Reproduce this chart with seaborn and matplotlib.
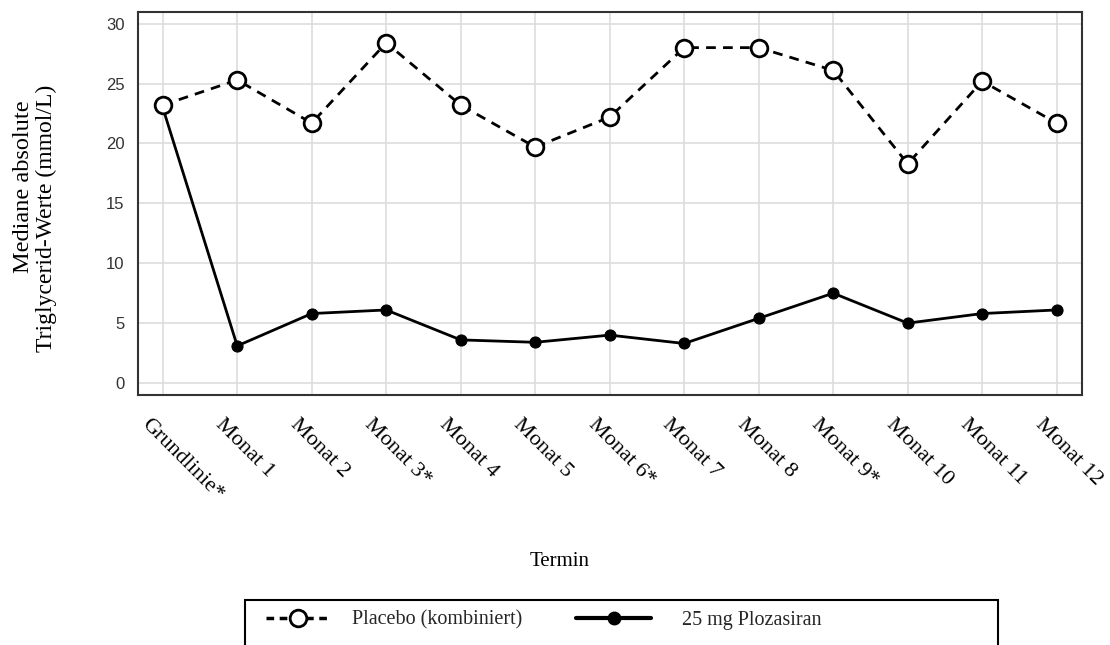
import matplotlib
matplotlib.use("Agg")
import matplotlib.pyplot as plt
import matplotlib.transforms as mtransforms
from matplotlib.lines import Line2D
from matplotlib.patches import Rectangle
import seaborn as sns
import pandas as pd

categories = ["Grundlinie*", "Monat 1", "Monat 2", "Monat 3*", "Monat 4", "Monat 5",
              "Monat 6*", "Monat 7", "Monat 8", "Monat 9*", "Monat 10", "Monat 11", "Monat 12"]
placebo = [23.2, 25.3, 21.7, 28.4, 23.2, 19.7, 22.2, 28.0, 28.0, 26.1, 18.3, 25.2, 21.7]
plozasiran = [23.0, 3.1, 5.8, 6.1, 3.6, 3.4, 4.0, 3.3, 5.4, 7.5, 5.0, 5.8, 6.1]
series_names = ["Placebo (kombiniert)", "25 mg Plozasiran"]
y_ticks = [0, 5, 10, 15, 20, 25, 30]

sns.set_theme(style="white")
serif = ["Liberation Serif", "DejaVu Serif"]
sans = ["Liberation Sans", "DejaVu Sans"]

fig = plt.figure(figsize=(11.1, 6.45), dpi=100)
ax = fig.add_axes([137.7 / 1110, 1 - 395 / 645, (1081.7 - 137.7) / 1110, (395 - 11.7) / 645])

df_p = pd.DataFrame({"Termin": categories, "Wert": placebo})
df_z = pd.DataFrame({"Termin": categories, "Wert": plozasiran})

sns.lineplot(data=df_z, x="Termin", y="Wert", ax=ax, color="black", linewidth=2.0,
             marker="o", markersize=8, markerfacecolor="black", markeredgecolor="black",
             sort=False, zorder=3)
sns.lineplot(data=df_p, x="Termin", y="Wert", ax=ax, color="black", linewidth=2.0,
             dashes=False, marker="o", markersize=12, markerfacecolor="white",
             markeredgecolor="black", markeredgewidth=2.0, sort=False, zorder=4)
ax.lines[-1].set_dashes([3.5, 2.6])

ax.set_xlim(-0.336, 12.336)
ax.set_ylim(-1, 31)
ax.set_yticks(y_ticks)
ax.set_xticks(range(len(categories)))
ax.set_xticklabels(categories)
ax.grid(True, color="#dddddd", linewidth=1.2)
ax.set_axisbelow(True)
for s in ax.spines.values():
    s.set_color("#333333")
    s.set_linewidth(1.5)
ax.tick_params(axis="x", direction="out", length=8.5, width=1.4, color="#333333", pad=6,
               labelcolor="black")
ax.tick_params(axis="y", direction="out", length=6.5, width=1.4, color="#333333", pad=3,
               labelsize=12, labelcolor="#333333")
for t in ax.get_yticklabels():
    t.set_fontfamily(sans)
offset = mtransforms.ScaledTranslation(-12 / 100, 0, fig.dpi_scale_trans)
for t in ax.get_xticklabels():
    t.set_fontfamily(serif)
    t.set_fontsize(16)
    t.set_rotation(-45)
    t.set_ha("left")
    t.set_va("top")
    t.set_rotation_mode("anchor")
    t.set_transform(t.get_transform() + offset)
ax.set_xlabel("")
ax.set_ylabel("")

fig.text(24 / 1110, 1 - 187 / 645, "Mediane absolute", rotation=90, ha="center", va="center",
         fontsize=17.5, family=serif, color="black")
fig.text(46 / 1110, 1 - 218 / 645, "Triglycerid-Werte (mmol/L)", rotation=90, ha="center",
         va="center", fontsize=17, family=serif, color="black")
fig.text(560 / 1110, 1 - 562 / 645, "Termin", ha="center", va="center", fontsize=15,
         family=serif, color="black")

# legend
fig.patches.append(Rectangle((245 / 1110, -0.05), (998 - 245) / 1110, (1 - 600 / 645) + 0.05,
                             transform=fig.transFigure, facecolor="white", edgecolor="black",
                             linewidth=1.5, zorder=0))
h1 = Line2D([], [], color="black", linewidth=2.5, dashes=[2.2, 1.6], marker="o", markersize=12,
            markerfacecolor="white", markeredgecolor="black", markeredgewidth=2.0)
h2 = Line2D([], [], color="black", linewidth=3.0, marker="o", markersize=9,
            markerfacecolor="black", markeredgecolor="black")
leg1 = fig.legend([h1], [series_names[0]], loc="center left",
                  bbox_to_anchor=(248 / 1110, 1 - 620 / 645), frameon=False,
                  handlelength=3.13, handletextpad=1.15, numpoints=1,
                  prop={"family": serif, "size": 14.5})
leg2 = fig.legend([h2], [series_names[1]], loc="center left",
                  bbox_to_anchor=(558 / 1110, 1 - 620 / 645), frameon=False,
                  handlelength=3.73, handletextpad=1.54, numpoints=1,
                  prop={"family": serif, "size": 14.5})

fig.savefig("out.png", dpi=100)
